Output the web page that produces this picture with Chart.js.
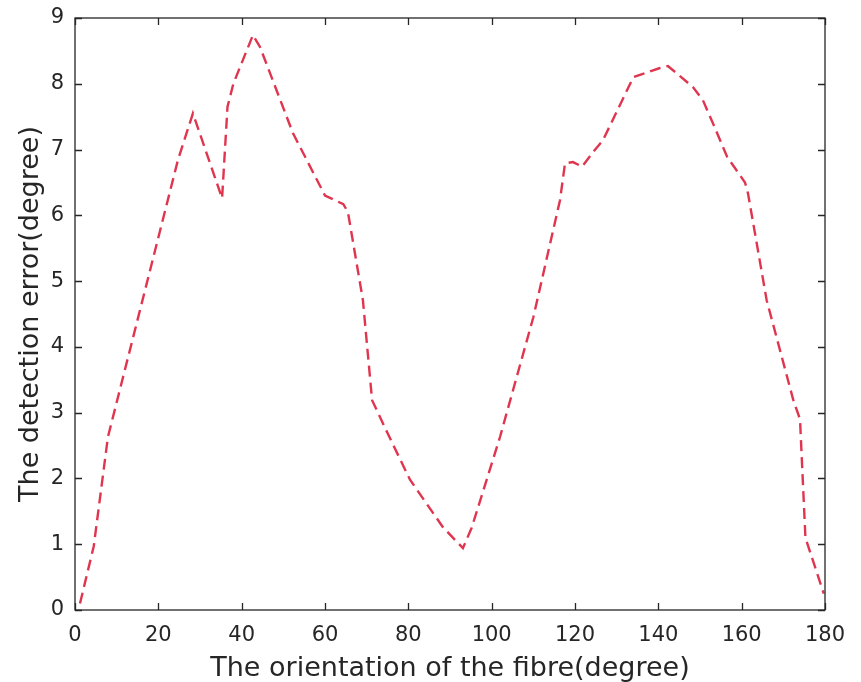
<!DOCTYPE html>
<html>
<head>
<meta charset="utf-8">
<script src="https://cdn.jsdelivr.net/npm/chart.js@4.4.0/dist/chart.umd.min.js"></script>
<style>
  html, body { margin: 0; padding: 0; background: #fff; }
  #wrap { width: 861px; height: 682px; position: relative; }
</style>
</head>
<body>
<div id="wrap"><canvas id="grafica"></canvas></div>
<script>
// orientation of the fibre (degree) and detection error (degree)
const orientacion = [1.2, 4.5, 7.9, 24.7, 28.3, 35.3, 36.6, 38.0, 42.7, 44.4, 52.3, 60.0, 64.4, 65.5,
    69.1, 71.3, 75.0, 80.4, 88.3, 93.1, 95.2, 102, 110, 116.4, 117.6, 119.5, 121.7, 124.3,
    126.7, 134, 140.4, 142.3, 144.4, 148.3, 150.7, 153.1, 156.5, 160.8, 161.5, 166, 172.4,
    174, 175.3, 179.7];
const errorDeteccion = [0.1, 0.97, 2.63, 6.84, 7.55, 6.26, 7.65, 8.0, 8.74, 8.56, 7.25, 6.3, 6.17, 6.05,
    4.71, 3.19, 2.69, 1.98, 1.26, 0.94, 1.25, 2.63, 4.45, 6.23, 6.79, 6.81, 6.74, 6.96,
    7.14, 8.1, 8.24, 8.27, 8.16, 7.95, 7.75, 7.4, 6.89, 6.5, 6.34, 4.71, 3.19,
    2.9, 1.1, 0.25];

const ticksX = [0, 20, 40, 60, 80, 100, 120, 140, 160, 180];
const ticksY = [0, 1, 2, 3, 4, 5, 6, 7, 8, 9];

const colorEjes = '#262626';
const fuente = 'DejaVu Sans';

// caja alrededor del area y marcas de ticks hacia adentro (estilo MATLAB)
const cajaConTicks = {
    id: 'cajaConTicks',
    afterDatasetsDraw(chart) {
        const { ctx, chartArea: a, scales } = chart;
        const largo = 7;
        ctx.save();
        ctx.strokeStyle = colorEjes;
        ctx.lineWidth = 1.3;
        ctx.strokeRect(a.left, a.top, a.right - a.left, a.bottom - a.top);
        ctx.beginPath();
        ticksX.forEach(v => {
            const px = Math.round(scales.x.getPixelForValue(v)) + 0.5;
            ctx.moveTo(px, a.bottom); ctx.lineTo(px, a.bottom - largo);
            ctx.moveTo(px, a.top); ctx.lineTo(px, a.top + largo);
        });
        ticksY.forEach(v => {
            const py = Math.round(scales.y.getPixelForValue(v)) + 0.5;
            ctx.moveTo(a.left, py); ctx.lineTo(a.left + largo, py);
            ctx.moveTo(a.right, py); ctx.lineTo(a.right - largo, py);
        });
        ctx.stroke();
        ctx.restore();
    }
};

const ctx = document.getElementById('grafica').getContext('2d');
const grafica = new Chart(ctx, {
    type: 'line',
    data: {
        datasets: [{
            data: orientacion.map((x, i) => ({ x: x, y: errorDeteccion[i] })),
            borderColor: '#e0354f',
            borderWidth: 2.4,
            borderDash: [11, 6],
            pointRadius: 0,
            fill: false,
            tension: 0
        }]
    },
    options: {
        responsive: true,
        maintainAspectRatio: false,
        devicePixelRatio: 1,
        animation: false,
        layout: { padding: { top: 18, right: 36, left: 0, bottom: 0 } },
        plugins: { legend: { display: false }, tooltip: { enabled: false } },
        scales: {
            x: {
                type: 'linear',
                min: 0, max: 180,
                afterBuildTicks: s => { s.ticks = ticksX.map(v => ({ value: v })); },
                afterFit: s => { s.height = 72; s.paddingLeft = 0; s.paddingRight = 0; },
                grid: { display: false, drawTicks: false },
                border: { display: false },
                ticks: { color: colorEjes, font: { family: fuente, size: 21 }, padding: 13, maxRotation: 0 },
                title: {
                    display: true,
                    text: 'The orientation of the fibre(degree)',
                    color: colorEjes,
                    font: { family: fuente, size: 27 },
                    padding: { top: 0, bottom: -3 }
                }
            },
            y: {
                min: 0, max: 9,
                afterBuildTicks: s => { s.ticks = ticksY.map(v => ({ value: v })); },
                afterFit: s => { s.width = 75; s.paddingTop = 0; s.paddingBottom = 0; },
                grid: { display: false, drawTicks: false },
                border: { display: false },
                ticks: { color: colorEjes, font: { family: fuente, size: 21 }, padding: 11 },
                title: {
                    display: true,
                    text: 'The detection error(degree)',
                    color: colorEjes,
                    font: { family: fuente, size: 27 },
                    padding: { top: 15, bottom: 0 }
                }
            }
        }
    },
    plugins: [cajaConTicks]
});
</script>
</body>
</html>
